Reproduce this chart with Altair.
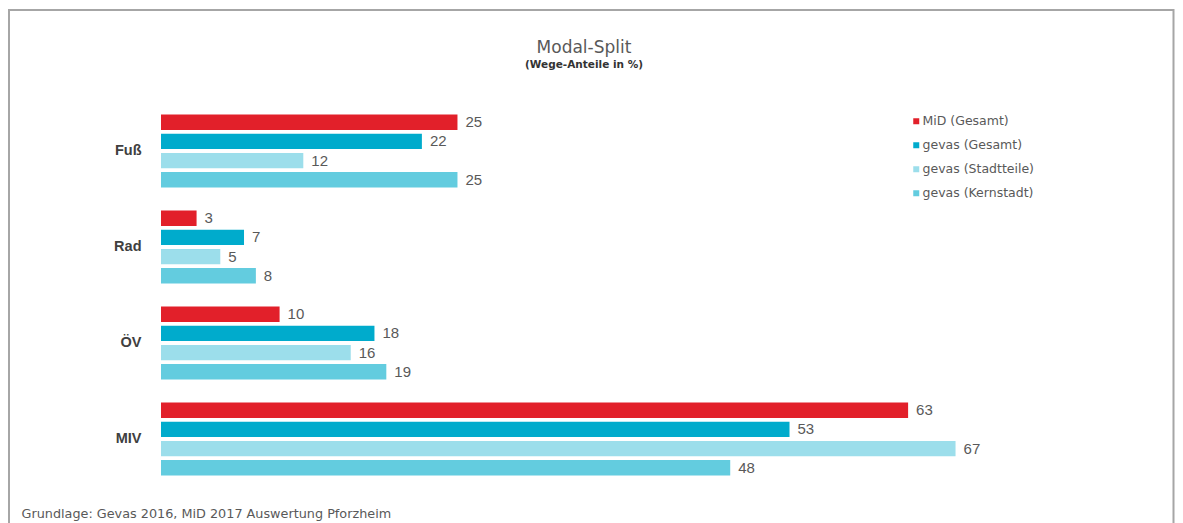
import altair as alt
import pandas as pd

modes = ["Fuß", "Rad", "ÖV", "MIV"]
series = ["MiD (Gesamt)", "gevas (Gesamt)", "gevas (Stadtteile)", "gevas (Kernstadt)"]
mid_gesamt = [25, 3, 10, 63]
gevas_gesamt = [22, 7, 18, 53]
gevas_stadtteile = [12, 5, 16, 67]
gevas_kernstadt = [25, 8, 19, 48]
colors = ["#E2202A", "#00ABCC", "#9CDEEB", "#63CCDF"]

rows = []
for s, vals in zip(series, [mid_gesamt, gevas_gesamt, gevas_stadtteile, gevas_kernstadt]):
    for m, v in zip(modes, vals):
        rows.append({"Modus": m, "Serie": s, "Anteil": v})
df = pd.DataFrame(rows)

y_enc = alt.Y("Modus:N", sort=modes,
              scale=alt.Scale(paddingInner=0.2, paddingOuter=0.1),
              axis=alt.Axis(title=None, domain=False, ticks=False, labelPadding=20,
                            labelFont="Liberation Sans", labelFontSize=14.5,
                            labelFontWeight="bold", labelColor="#404040"))
yoff_enc = alt.YOffset("Serie:N", sort=series,
                       scale=alt.Scale(paddingInner=0.2, paddingOuter=0.1))
x_enc = alt.X("Anteil:Q", scale=alt.Scale(domain=[0, 85], nice=False),
              axis=alt.Axis(labels=False, ticks=False, domain=False, grid=False,
                            title="Grundlage: Gevas 2016, MiD 2017 Auswertung Pforzheim",
                            titleX=-140, titleY=26, titleAnchor="start", titleAlign="left",
                            titleBaseline="middle", titleFont="DejaVu Sans",
                            titleFontSize=12.8, titleFontWeight="normal", titleColor="#595959"))

base = alt.Chart(df)

bars = base.mark_bar().encode(
    x=x_enc,
    y=y_enc,
    yOffset=yoff_enc,
    color=alt.Color("Serie:N", sort=series,
                    scale=alt.Scale(domain=series, range=colors),
                    legend=alt.Legend(title=None, orient="none", legendX=749, legendY=12,
                                      symbolType="square", symbolSize=36,
                                      symbolStrokeWidth=0, labelFont="DejaVu Sans",
                                      labelFontSize=12.5, labelColor="#595959",
                                      labelOffset=0, rowPadding=11, padding=0)),
)

labels = base.mark_text(align="left", baseline="middle", dx=8,
                        font="Liberation Sans", fontSize=15, color="#595959").encode(
    x="Anteil:Q",
    y=alt.Y("Modus:N", sort=modes),
    yOffset=alt.YOffset("Serie:N", sort=series),
    text="Anteil:Q",
)

frame = alt.Chart(pd.DataFrame({"k": [0]})).mark_rect(
    filled=False, stroke="#A6A6A6", strokeWidth=2
).encode(
    x=alt.value(-152), x2=alt.value(1012.5),
    y=alt.value(-93), y2=alt.value(480),
)

chart = alt.layer(frame, bars, labels).properties(
    width=1008,
    height=384,
    autosize=alt.AutoSizeParams(type="none"),
    padding={"left": 153, "top": 95, "right": 6, "bottom": 36},
    title=alt.Title(text="Modal-Split", subtitle="(Wege-Anteile in %)",
                    anchor="middle", dx=-81, offset=-62,
                    font="DejaVu Sans", fontSize=17, fontWeight="normal", color="#595959",
                    subtitleFont="DejaVu Sans", subtitleFontSize=10.5,
                    subtitleFontWeight="bold", subtitleColor="#333333",
                    subtitlePadding=3),
).configure_view(strokeWidth=0)

chart.save("out.html", embed_options={"renderer": "svg", "actions": False})
